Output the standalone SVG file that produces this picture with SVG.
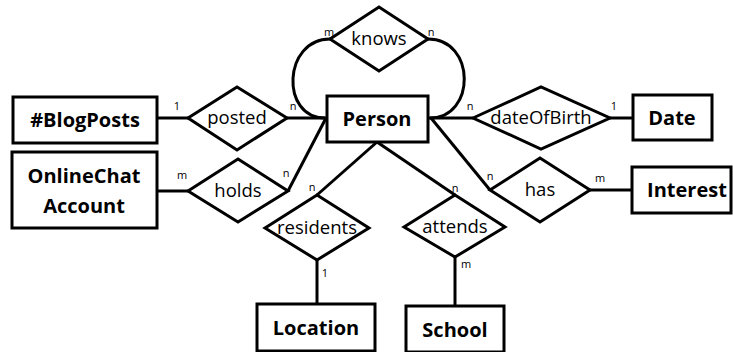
<svg xmlns="http://www.w3.org/2000/svg" width="733" height="352" viewBox="0 0 733 352">
<style>
.ent{fill:#fff;stroke:#000;stroke-width:3}
.rel{fill:#fff;stroke:#000;stroke-width:3;stroke-linejoin:miter}
.ln{fill:none;stroke:#000;stroke-width:3}
.et{font-family:"Open Sans",sans-serif;font-weight:bold;font-size:20px;text-anchor:middle;fill:#000}
.rt{font-family:"Open Sans",sans-serif;font-size:18.5px;text-anchor:middle;fill:#000}
.ct{font-family:"Open Sans",sans-serif;font-size:11px;text-anchor:middle;fill:#000}
</style>
<rect width="733" height="352" fill="#fff"/>
<g id="connectors">
<path class="ln" d="M330,39 C283,39 280,118 325,118"/>
<path class="ln" d="M428,39 C476,39 476,118 430,118"/>
<line class="ln" x1="157" y1="118" x2="188" y2="118"/>
<line class="ln" x1="287" y1="118" x2="327" y2="118"/>
<line class="ln" x1="157" y1="191" x2="188" y2="191"/>
<line class="ln" x1="288" y1="191" x2="326" y2="118"/>
<line class="ln" x1="428" y1="118" x2="473" y2="118"/>
<line class="ln" x1="610" y1="118" x2="633" y2="118"/>
<line class="ln" x1="431" y1="118" x2="490" y2="190"/>
<line class="ln" x1="590" y1="190" x2="632" y2="190"/>
<line class="ln" x1="377" y1="142" x2="317" y2="195"/>
<line class="ln" x1="377" y1="142" x2="455" y2="195"/>
<line class="ln" x1="317" y1="260" x2="317" y2="304"/>
<line class="ln" x1="455" y1="257" x2="455" y2="306"/>
</g>
<g id="person"><rect class="ent" x="327" y="96" width="101" height="46"/><text class="et" x="377" y="126">Person</text></g>
<g id="blogposts"><rect class="ent" x="13" y="97" width="144" height="46"/><text class="et" x="85" y="127">#BlogPosts</text></g>
<g id="onlinechat"><rect class="ent" x="12" y="152" width="145" height="76"/><text class="et" x="84" y="183">OnlineChat</text><text class="et" x="84" y="213">Account</text></g>
<g id="date"><rect class="ent" x="633" y="95" width="79" height="45"/><text class="et" x="672" y="125">Date</text></g>
<g id="interest"><rect class="ent" x="632" y="167" width="99" height="46"/><text class="et" x="687" y="197">Interest</text></g>
<g id="location"><rect class="ent" x="257" y="304" width="118" height="47"/><text class="et" x="316" y="335">Location</text></g>
<g id="school"><rect class="ent" x="406" y="306" width="98" height="46"/><text class="et" x="455" y="337">School</text></g>
<g id="knows"><polygon class="rel" points="330,39 379,7 428,39 379,71"/><text class="rt" x="379" y="45">knows</text></g>
<g id="posted"><polygon class="rel" points="188,118 237,87 287,118 237,150"/><text class="rt" x="237" y="124">posted</text></g>
<g id="holds"><polygon class="rel" points="188,191 238,159 288,191 238,222"/><text class="rt" x="238" y="197">holds</text></g>
<g id="dateofbirth"><polygon class="rel" points="473,118 541,87 610,118 541,149"/><text class="rt" x="541" y="124">dateOfBirth</text></g>
<g id="has"><polygon class="rel" points="490,190 540,158 590,190 540,222"/><text class="rt" x="540" y="196">has</text></g>
<g id="residents"><polygon class="rel" points="265,228 317,195 369,228 317,260"/><text class="rt" x="317" y="234">residents</text></g>
<g id="attends"><polygon class="rel" points="404,227 455,195 505,227 455,257"/><text class="rt" x="455" y="233">attends</text></g>
<g id="cardinalities">
<text class="ct" x="329" y="36">m</text>
<text class="ct" x="431" y="36">n</text>
<text class="ct" x="177" y="110">1</text>
<text class="ct" x="293" y="110">n</text>
<text class="ct" x="182" y="179">m</text>
<text class="ct" x="286" y="177">n</text>
<text class="ct" x="312" y="191">n</text>
<text class="ct" x="325" y="277">1</text>
<text class="ct" x="470" y="110">n</text>
<text class="ct" x="614" y="110">1</text>
<text class="ct" x="490" y="180">n</text>
<text class="ct" x="600" y="182">m</text>
<text class="ct" x="455" y="192">n</text>
<text class="ct" x="466" y="268">m</text>
</g>
</svg>
